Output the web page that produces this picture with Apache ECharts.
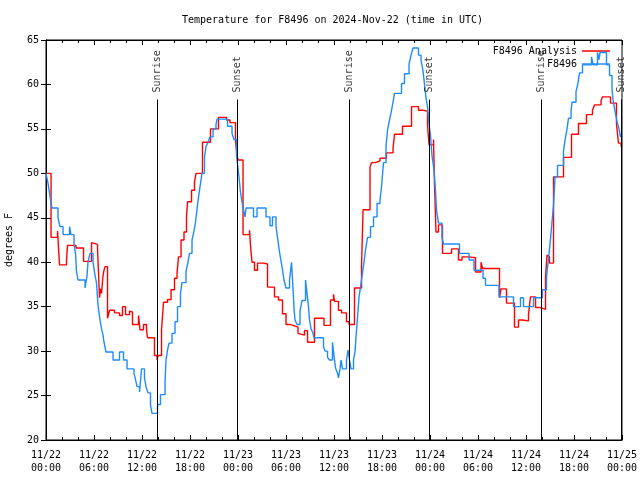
<!DOCTYPE html>
<html>
<head>
<meta charset="utf-8">
<script src="https://cdn.jsdelivr.net/npm/echarts@6/dist/echarts.min.js"></script>
<style>html,body{margin:0;padding:0;background:#fff}#c{width:640px;height:480px}</style>
</head>
<body>
<div id="c"></div>
<script>
// hours since 2024-11-22 00:00 UTC
const obsHours = [0,0.25,0.5,0.75,1.5,1.75,2.13,2.94,3.13,3.5,3.69,3.81,4.0,4.88,5.13,5.25,5.5,5.88,6.13,6.31,6.5,6.75,6.94,7.13,7.25,7.5,8.38,9.19,9.69,10.13,11.0,11.19,11.38,11.69,11.94,12.31,12.5,12.75,13.06,13.25,13.94,14.31,14.88,15.0,15.19,15.38,15.75,16.13,16.44,16.81,17.0,17.5,17.75,17.94,18.25,18.5,18.69,18.88,19.06,19.25,19.5,19.81,20.0,20.25,20.5,20.88,21.25,21.38,22.69,23.25,23.5,23.81,24.0,24.19,24.31,24.5,24.63,24.88,25.0,25.94,26.38,27.5,28.0,28.31,28.75,28.94,29.13,29.25,29.5,29.75,30.0,30.44,30.69,30.88,31.0,31.13,31.38,31.75,32.0,32.44,32.63,32.81,32.94,33.13,33.38,33.5,34.69,34.88,35.19,35.44,35.81,36.0,36.19,36.44,36.56,36.75,36.88,37.06,37.56,37.75,37.94,38.13,38.44,38.63,38.75,38.94,39.13,39.31,39.56,39.75,39.94,40.19,40.56,40.94,41.38,41.75,41.94,42.0,42.19,42.5,42.69,42.94,43.13,43.38,43.56,44.44,44.81,45.38,45.63,45.88,46.56,46.88,47.13,47.31,47.5,47.69,47.88,48.06,48.25,48.5,48.69,48.81,49.06,49.5,49.69,51.69,52.88,53.5,54.63,54.94,56.63,58.44,59.31,59.69,60.94,62.06,62.56,62.75,63.0,63.25,63.44,63.63,63.94,64.69,64.88,65.13,65.31,65.63,65.75,66.25,66.44,66.69,67.06,68.19,68.38,68.94,69.13,69.25,70.06,70.44,70.75,70.88,71.13,71.38,71.63,71.81,72];
const obsTemp = [50.0,48.9,47.4,46.1,45.0,44.0,43.1,44.0,43.1,42.0,41.0,39.0,38.0,37.1,38.5,40.0,41.0,40.0,38.5,37.7,35.2,33.5,32.5,31.8,31.0,29.9,29.0,29.9,29.0,28.0,27.5,26.8,26.0,25.4,28.0,27.0,26.0,25.3,24.0,23.0,24.0,25.1,26.5,29.0,30.1,30.9,32.0,33.3,35.0,36.5,37.7,39.0,40.0,41.0,42.5,43.5,44.5,46.0,47.3,48.5,50.0,51.8,53.0,53.5,54.1,55.0,55.5,56.1,55.3,54.5,53.8,52.0,50.6,49.0,47.9,46.8,46.1,45.1,46.1,45.1,46.1,45.1,44.1,45.1,44.0,42.8,41.5,40.8,39.5,38.0,37.1,38.0,40.0,37.0,34.8,33.5,33.0,34.5,35.7,38.0,36.5,35.0,33.5,32.5,32.0,31.5,30.5,30.0,29.3,29.0,31.0,29.5,28.1,27.5,27.0,28.0,29.0,28.0,29.0,30.1,29.0,28.0,29.0,30.0,31.6,33.8,36.1,37.2,38.8,40.0,41.4,42.8,44.0,45.1,46.6,47.0,48.5,49.2,51.2,53.0,54.9,56.0,56.8,58.0,59.0,60.1,61.2,62.3,63.3,64.1,63.3,62.75,61.5,60.0,58.5,57.5,55.5,54.3,52.0,50.4,48.0,45.9,44.4,42.8,42.05,41.0,40.25,39.1,38.2,37.4,36.1,35.0,36.0,35.0,36.0,36.9,38.3,39.9,42.0,44.5,46.4,49.6,50.9,52.5,53.75,55.0,56.2,57.0,58.0,59.2,59.9,61.3,62.2,63.1,62.2,63.6,62.8,63.6,62.2,61.0,59.5,58.25,57.0,55.8,55.0,54.1,54.5];

const anaHours = [0,0.63,1.44,1.69,2.56,2.69,3.75,4.69,5.69,5.94,6.44,6.69,6.81,6.94,7.13,7.25,7.38,7.69,7.94,8.56,9.19,9.56,9.94,10.44,10.63,10.81,11.56,11.75,12.19,12.56,12.69,13.56,13.88,14.0,14.44,14.69,15.19,15.63,16.06,16.38,16.56,16.88,17.25,17.56,17.69,18.19,18.56,18.75,19.56,20.56,21.56,22.56,23.0,23.69,23.88,24.0,24.63,25.44,25.56,25.75,26.06,26.44,27.19,27.69,28.56,29.06,29.56,30.0,30.5,30.88,31.5,31.69,32.31,32.69,33.56,34.75,35.56,35.94,36.06,36.56,36.94,37.56,37.88,38.56,39.44,39.63,40.5,40.69,41.19,41.75,42.56,43.38,43.56,44.56,45.69,46.56,47.13,47.69,47.88,48.44,48.56,48.75,49.06,49.56,50.69,51.56,52.0,52.81,53.69,54.38,54.56,56.69,56.88,57.56,58.56,59.06,59.56,60.31,60.56,61.19,61.81,62.44,62.63,62.75,62.94,63.44,64.69,65.69,66.56,67.56,68.31,68.56,69.38,69.56,70.56,71.31,71.56,71.88];
const anaTemp = [50.0,42.8,43.5,39.7,40.2,41.9,41.6,40.1,42.2,42.0,41.5,36.0,37.0,36.5,38.5,39.1,39.5,33.7,34.6,34.3,34.0,35.0,34.1,34.5,34.4,33.0,34.0,32.4,33.0,32.4,31.5,29.5,29.0,29.5,32.4,35.5,35.8,36.9,38.2,38.8,40.6,42.5,43.4,45.1,46.8,48.1,49.0,50.0,53.5,55.0,56.3,56.0,55.7,53.5,52.1,51.5,43.1,43.6,41.9,40.0,39.1,39.9,39.8,37.2,36.1,35.75,34.2,33.0,32.9,32.7,32.0,31.8,32.3,31.0,33.7,32.9,35.75,36.4,35.6,34.6,34.3,33.3,33.0,37.1,39.5,45.9,50.7,51.2,51.4,51.7,52.3,52.8,54.4,55.3,57.5,57.1,57.0,55.4,53.2,53.8,48.9,43.4,44.2,41.0,41.5,40.25,40.6,40.5,38.9,40.0,39.3,36.0,37.0,35.4,32.7,33.5,33.4,34.1,36.1,34.9,34.7,38.3,40.8,40.6,39.9,49.6,51.8,54.4,55.6,56.6,57.1,57.7,58.2,58.6,57.9,55.6,53.4,53.0];

const sunHours = [13.88, 23.88, 37.88, 47.88, 61.88, 71.88];
const sunNames = ['Sunrise','Sunset','Sunrise','Sunset','Sunrise','Sunset'];
const sunLineTop = 58.3;
const sunLabelBase = 59.1;

const xTickLabels = ['11/22\n00:00','11/22\n06:00','11/22\n12:00','11/22\n18:00','11/23\n00:00','11/23\n06:00','11/23\n12:00','11/23\n18:00','11/24\n00:00','11/24\n06:00','11/24\n12:00','11/24\n18:00','11/25\n00:00'];
const seriesNames = ['F8496 Analysis','F8496'];

const FONT = 'DejaVu Sans Mono';
const zip = (a,b) => a.map((v,i)=>[v,b[i]]);

const baseX = {
  type:'value', min:0, max:72, interval:6,
  axisLine:{show:true, lineStyle:{color:'#000', width:1}},
  axisTick:{show:true, inside:true, length:5, lineStyle:{color:'#000'}},
  minorTick:{show:true, splitNumber:3, length:3, lineStyle:{color:'#000'}},
  splitLine:{show:false}
};
const baseY = {
  type:'value', min:20, max:65, interval:5,
  axisLine:{show:true, lineStyle:{color:'#000', width:1}},
  axisTick:{show:true, inside:true, length:5, lineStyle:{color:'#000'}},
  splitLine:{show:false}
};

const chart = echarts.init(document.getElementById('c'), null, {renderer:'canvas'});
chart.setOption({
  animation:false,
  backgroundColor:'#fff',
  title:{text:'Temperature for F8496 on 2024-Nov-22 (time in UTC)', left:177, top:10,
    textStyle:{fontFamily:FONT, fontSize:10, fontWeight:'normal', color:'#000'}},
  grid:{left:46, right:18, top:40, bottom:40, show:true, borderColor:'#000', borderWidth:1,
    containLabel:false, outerBoundsMode:'none'},
  legend:{data:seriesNames.map(n=>({name:n, icon:'rect'})), orient:'vertical', right:25, top:40, align:'right',
    itemWidth:28, itemHeight:1.5, itemGap:1,
    textStyle:{fontFamily:FONT, fontSize:10, color:'#000', lineHeight:12}},
  xAxis:[
    Object.assign({}, baseX, {position:'bottom',
      axisLabel:{fontFamily:FONT, fontSize:10, color:'#000', lineHeight:13, margin:9,
        formatter:(v)=>xTickLabels[Math.round(v/6)]}}),
    Object.assign({}, baseX, {position:'top', axisLabel:{show:false}})
  ],
  yAxis:[
    Object.assign({}, baseY, {position:'left', name:'degrees F', nameLocation:'middle', nameGap:32,
      nameTextStyle:{fontFamily:FONT, fontSize:10, color:'#000'},
      axisLabel:{fontFamily:FONT, fontSize:10, color:'#000', margin:7}}),
    Object.assign({}, baseY, {position:'right', axisLabel:{show:false}})
  ],
  series:[
    {name:seriesNames[0], type:'line', step:'end', symbol:'none', data:zip(anaHours, anaTemp),
      lineStyle:{color:'#ff0000', width:1.4}, itemStyle:{color:'#ff0000'}, z:3},
    {name:seriesNames[1], type:'line', step:'end', symbol:'none', data:zip(obsHours, obsTemp),
      lineStyle:{color:'#1e8cff', width:1.4}, itemStyle:{color:'#1e8cff'}, z:4},
    {name:'sun', type:'line', data:[], symbol:'none', z:5,
      markLine:{silent:true, symbol:['none','none'], label:{show:false},
        lineStyle:{color:'#000', width:1, type:'solid'},
        data: sunHours.map(h=>[{coord:[h, sunLineTop]},{coord:[h, 20]}])}},
    {name:'sunlabels', type:'scatter', symbolSize:0, z:6, silent:true,
      data: sunHours.map((h,i)=>({value:[h, sunLabelBase], name:sunNames[i]})),
      label:{show:true, position:'inside', rotate:90, align:'left', verticalAlign:'middle',
        formatter:(p)=>p.name, fontFamily:FONT, fontSize:10, color:'#000'}}
  ]
});
</script>
</body>
</html>
